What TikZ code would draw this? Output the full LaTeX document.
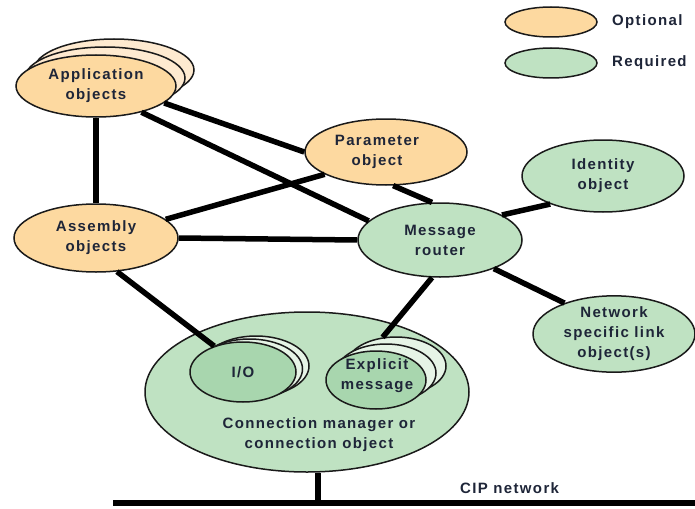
\documentclass[tikz,border=0pt]{standalone}
\usepackage{fontspec}
\setmainfont{Liberation Sans}[LetterSpace=9]
\usetikzlibrary{shapes.geometric}
\definecolor{opt}{HTML}{FDD9A0}
\definecolor{optback}{HTML}{FEEAD0}
\definecolor{req}{HTML}{BFE2C2}
\definecolor{reqdark}{HTML}{A8D6AE}
\definecolor{reqback}{HTML}{E6F4E6}
\definecolor{txt}{HTML}{1E2538}
\definecolor{edge}{HTML}{1A1A1A}
\begin{document}
\begin{tikzpicture}[x=1pt,y=-1pt,
  obj/.style={ellipse, draw=edge, line width=1.5pt, inner sep=0pt, align=center, text=txt, font=\fontsize{15}{20}\selectfont\bfseries},
  lbl/.style={align=center, text=txt, inner sep=0pt, font=\fontsize{15}{20}\selectfont\bfseries},
  link/.style={line width=5.5pt, draw=black},
]
\useasboundingbox (0,0) rectangle (695,508);

% legend
\node[obj, fill=opt, minimum width=92, minimum height=30] (leg1) at (551,22) {};
\node[obj, fill=req, minimum width=92, minimum height=30] (leg2) at (551,63) {};
\node[lbl, anchor=west] (leg1t) at (612,22) {Optional};
\node[lbl, anchor=west] (leg2t) at (612,63) {Required};

% application objects (stacked)
\node[obj, fill=optback, minimum width=160, minimum height=62] (appb2) at (114,70) {};
\node[obj, fill=optback, minimum width=160, minimum height=62] (appb1) at (105,78) {};
\node[obj, fill=opt, minimum width=160, minimum height=62] (app) at (96,86) {Application\\objects};

\node[obj, fill=opt, minimum width=162, minimum height=66] (param) at (386,152) {};
\node[lbl] (paramt) at (377,152) {Parameter\\object};

\node[obj, fill=opt, minimum width=164, minimum height=68] (asm) at (96,238) {Assembly\\objects};

\node[obj, fill=req, minimum width=162, minimum height=72] (ident) at (603,176) {Identity\\object};
\node[obj, fill=req, minimum width=164, minimum height=74] (mr) at (440,240) {Message\\router};
\node[obj, fill=req, minimum width=162, minimum height=72] (net) at (614,334) {Network\\specific link\\object(s)};

% connection manager
\node[obj, fill=req, minimum width=324, minimum height=160] (conn) at (307,392) {};
\node[lbl] (connt) at (319,435) {Connection manager or\\connection object};

\node[obj, fill=reqback, minimum width=106, minimum height=60] (iob2) at (256,366) {};
\node[obj, fill=reqback, minimum width=106, minimum height=60] (iob1) at (249.5,369) {};
\node[obj, fill=reqdark, minimum width=106, minimum height=60] (io) at (243,372) {I/O};

\node[obj, fill=reqback, minimum width=100, minimum height=58] (exb2) at (396,366) {};
\node[obj, fill=reqback, minimum width=100, minimum height=58] (exb1) at (386,373) {};
\node[obj, fill=reqdark, minimum width=100, minimum height=58] (ex) at (376,380) {};
\node[lbl] (ext) at (377,376) {Explicit\\message};

% CIP network
\coordinate (cipL) at (113,503);
\coordinate (cipR) at (695,503);
\coordinate (cipTap) at (318,503);
\draw[link] (cipL) -- (cipR);
\draw[link] (cipTap) -- (cipTap |- conn.south);
\node[lbl, anchor=west] (cipt) at (460,488) {CIP network};

% connectors
\draw[link] (app.south) -- (asm.north);
\draw[link] (app.-14) -- (param.west);
\draw[link] (app.-30) -- (mr.165);
\draw[link] (asm.15) -- (param.200);
\draw[link] (asm.east) -- (mr.west);
\draw[link] (asm.-58) -- (io.138);
\draw[link] (param.-78) -- (mr.102);
\draw[link] (mr.22) -- (ident.208);
\draw[link] (mr.-28) -- (net.148);
\draw[link] (mr.-102) -- (exb2.115);
\end{tikzpicture}
\end{document}
